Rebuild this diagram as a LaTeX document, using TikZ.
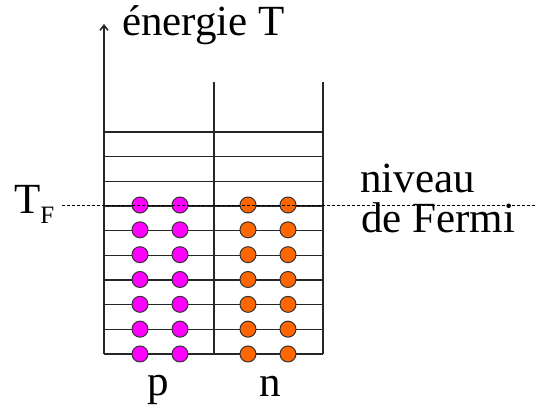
\documentclass[tikz,border=0pt]{standalone}
\usepackage{fontspec}
\newfontfamily\tnr{Liberation Serif}
\definecolor{pinkdot}{HTML}{FF00FF}
\definecolor{orangedot}{HTML}{FF6600}
\usetikzlibrary{arrows.meta}
\begin{document}
\begin{tikzpicture}[x=1pt,y=-1pt,
  level/.style={line width=1.6pt,black!85},
  wall/.style={line width=1.6pt,black!85},
  pdot/.style={circle,draw=black!80,line width=1pt,fill=pinkdot,minimum size=16pt,inner sep=0pt},
  ndot/.style={circle,draw=black!80,line width=1pt,fill=orangedot,minimum size=16pt,inner sep=0pt},
  lbl/.style={font=\tnr\fontsize{43}{50}\selectfont,inner sep=0pt,anchor=base west},
  fermi/.style={line width=0.9pt,dash pattern=on 3pt off 2pt}]
\useasboundingbox (0,0) rectangle (542,410);
% walls
\coordinate (bl) at (104,354);
\coordinate (top) at (104,24);
\draw[wall,-{Straight Barb[length=5pt,width=8pt]}] (bl) -- (top);
\draw[wall] (214,354) -- (214,82);
\draw[wall] (323,354) -- (323,82);
% levels
\foreach \i in {0,...,9}{
  \draw[level] (104,{132+24.67*\i}) -- (323,{132+24.67*\i});
}
% Fermi line
\coordinate (fa) at (62,205);
\coordinate (fb) at (536,205);
% dots
\foreach \i in {0,...,6}{
  \node[pdot] (p1\i) at (140,{205+24.83*\i}) {};
  \node[pdot] (p2\i) at (180,{205+24.83*\i}) {};
  \node[ndot] (n1\i) at (248,{205+24.83*\i}) {};
  \node[ndot] (n2\i) at (288,{205+24.83*\i}) {};
}
\draw[fermi] (fa) -- (fb);
% labels
\node[lbl] (en) at (122,35) {énergie T};
\node[lbl] (tf) at (14,213) {T\raisebox{-10pt}{\tnr\fontsize{25}{25}\selectfont F}};
\node[lbl] (niv) at (360,192) {niveau};
\node[lbl] (df) at (361,232) {de Fermi};
\node[lbl] (p) at (147,395) {p};
\node[lbl] (n) at (259,396) {n};
\end{tikzpicture}
\end{document}
